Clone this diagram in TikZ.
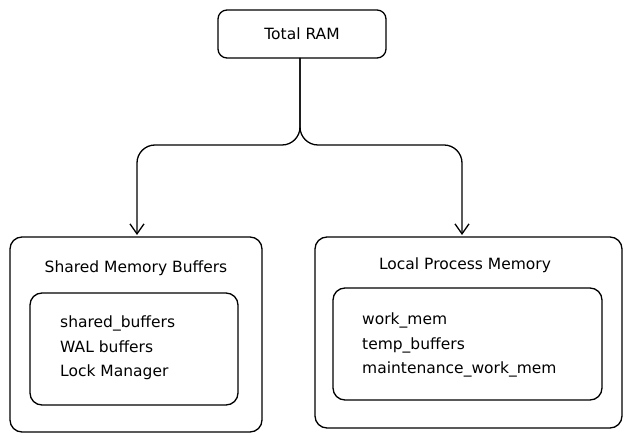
\documentclass[tikz,border=0pt]{standalone}
\usepackage{fontspec}
\setmainfont{DejaVu Sans}
\usetikzlibrary{arrows.meta,positioning}
\tikzset{
  box/.style={draw,line width=1.3pt,rounded corners=12pt},
  lbl/.style={font=\fontsize{15.5}{24.5}\selectfont,align=left,inner sep=0pt},
  link/.style={line width=1.3pt,rounded corners=18pt,-{Straight Barb[length=10pt,width=14pt]}}
}
\begin{document}
\begin{tikzpicture}[x=1pt,y=-1pt]
        \useasboundingbox (0,0) rectangle (630,443);

        %%% TOP %%%
        \draw[box,rounded corners=9pt] (218,10) rectangle (386,58);
        \node[lbl] (ram) at (302,34) {Total RAM};
        \coordinate (ramb) at (300,58);
        \coordinate (fork) at (300,145);

        %%% LEFT %%%
        \draw[box] (10,237) rectangle (262,432);
        \draw[box] (30,293) rectangle (238,405);
        \node[lbl] (shared) at (136,268) {Shared Memory Buffers};
        \node[lbl,anchor=west] (sharedlist) at (60,348) {shared\_buffers\\WAL buffers\\Lock Manager};
        \coordinate (lefttop) at (137,235);

        %%% RIGHT %%%
        \draw[box] (315,237) rectangle (622,428);
        \draw[box] (333,288) rectangle (602,400);
        \node[lbl] (local) at (465,265) {Local Process Memory};
        \node[lbl,anchor=west] (locallist) at (362,345) {work\_mem\\temp\_buffers\\maintenance\_work\_mem};
        \coordinate (righttop) at (462,235);

        %%% LINKS %%%
        \draw[link] (ramb) -- (fork) -| (lefttop);
        \draw[link] (ramb) -- (fork) -| (righttop);
\end{tikzpicture}
\end{document}
